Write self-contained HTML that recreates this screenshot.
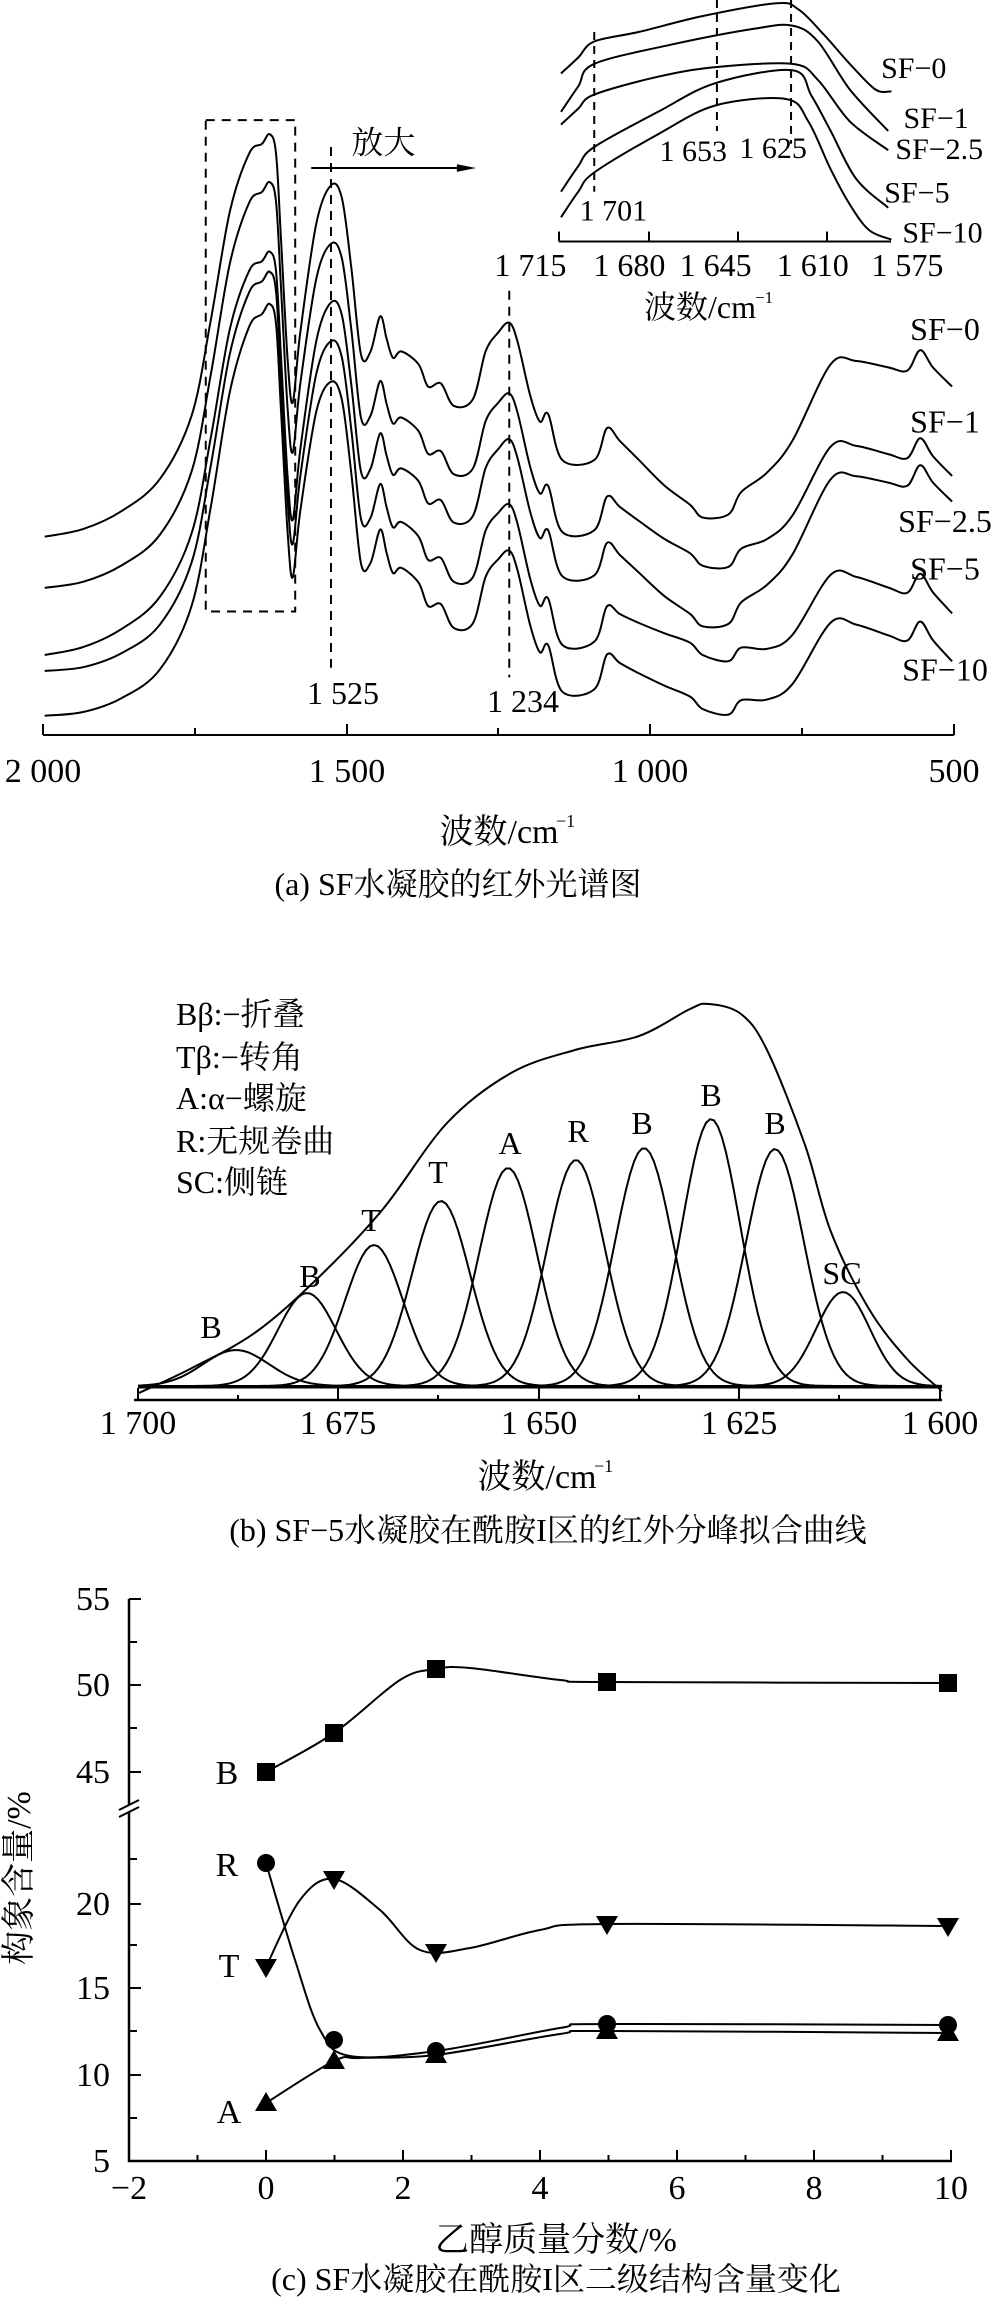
<!DOCTYPE html>
<html><head><meta charset="utf-8"><style>
html,body{margin:0;padding:0;background:#fff;}
svg{display:block;}
text{font-family:"Liberation Serif","Noto Serif CJK SC","Noto Sans CJK SC",serif;fill:#000;}
</style></head><body>
<svg id="s" width="1000" height="2309" viewBox="0 0 1000 2309" xmlns="http://www.w3.org/2000/svg">
<rect width="1000" height="2309" fill="#fff"/>
</svg>
<script>
var S=document.getElementById('s');var NS='http://www.w3.org/2000/svg';
function el(t,a,txt){var e=document.createElementNS(NS,t);for(var k in a)e.setAttribute(k,a[k]);if(txt!==undefined)e.textContent=txt;S.appendChild(e);return e;}
function cr(p){var d='M'+p[0][0].toFixed(1)+','+p[0][1].toFixed(1);for(var i=0;i<p.length-1;i++){var p0=p[i-1]||p[i],p1=p[i],p2=p[i+1],p3=p[i+2]||p2;var c1=[p1[0]+(p2[0]-p0[0])/6,p1[1]+(p2[1]-p0[1])/6],c2=[p2[0]-(p3[0]-p1[0])/6,p2[1]-(p3[1]-p1[1])/6];d+='C'+c1[0].toFixed(1)+','+c1[1].toFixed(1)+' '+c2[0].toFixed(1)+','+c2[1].toFixed(1)+' '+p2[0].toFixed(1)+','+p2[1].toFixed(1);}return d;}
function path(p,w,dash){var a={d:cr(p),fill:'none',stroke:'#000','stroke-width':w||2};if(dash)a['stroke-dasharray']=dash;return el('path',a);}
function line(x1,y1,x2,y2,w,dash){var a={x1:x1,y1:y1,x2:x2,y2:y2,stroke:'#000','stroke-width':w||2};if(dash)a['stroke-dasharray']=dash;return el('line',a);}
function txt(x,y,s,size,anchor){return el('text',{x:x,y:y,'font-size':size||32,'text-anchor':anchor||'middle'},s);}
// ===== Panel a =====
var k=1/1.565;
var T0=[[70,840],[130,828],[190,800],[250,750],[300,650],[330,500],[360,330],[390,240],[410,225],[422,210],[432,240],[440,380],[450,560],[458,630],[470,520],[495,350],[518,290],[535,310],[550,420],[565,555],[580,550],[595,495],[605,530],[615,560],[628,550],[655,570],[670,605],[690,600],[710,635],[740,625],[760,550],[780,520],[797,505],[810,535],[830,620],[845,660],[858,648],[880,720],[930,720],[950,670],[970,690],[1000,720],[1040,760],[1080,790],[1100,810],[1140,805],[1160,770],[1200,740],[1240,690],[1300,570],[1340,565],[1390,575],[1420,580],[1440,548],[1460,575],[1490,605]];
var offs=[[0,0,0,0],[80,140,-20,-48],[185,180,0,-11],[210,355,-31,-100],[280,430,-52,-89]];
offs.forEach(function(o){var p=T0.map(function(q){var x=q[0];var off=o[0]+(x-70)/1420*(o[1]-o[0])+o[2]*Math.exp(-Math.pow((x-430)/90,2))+o[3]*Math.exp(-Math.pow((x-1100)/120,2));return [x*k,(q[1]+off)*k];});path(p,2);});
el('rect',{x:322*k,y:188*k,width:140*k,height:769*k,fill:'none',stroke:'#000','stroke-width':2,'stroke-dasharray':'9,7'});
line(518*k,230*k,518*k,1045*k,2,'9,7');
line(797*k,455*k,797*k,1060*k,2,'9,7');
line(487*k,263*k,725*k,263*k,2);
el('polygon',{points:(745*k)+','+(263*k)+' '+(715*k)+','+(257*k)+' '+(715*k)+','+(269*k),fill:'#000'});
txt(600*k,240*k,'放大',32);
line(43,735,954,735,2);
[43,347,650,954].forEach(function(x){line(x,735,x,724,2);});
[195,498,802].forEach(function(x){line(x,735,x,728,2);});
txt(43,782,'2 000',34);txt(347,782,'1 500',34);txt(650,782,'1 000',34);txt(954,782,'500',34);
txt(499,843,'波数/cm',34);el('text',{x:556,y:827,'font-size':18},'−1');
txt(458,895,'(a) SF水凝胶的红外光谱图',32);
txt(343,704,'1 525',32);txt(523,712,'1 234',32);
[['SF−0',515],['SF−1',660],['SF−2.5',815],['SF−5',890],['SF−10',1048]].forEach(function(a){txt(945,a[1]*k+11,a[0],32);});
var ins=[[[878,115],[905,90],[930,65],[1000,50],[1100,25],[1215,5],[1250,15],[1290,55],[1330,100],[1370,140],[1395,143]],
[[878,175],[905,135],[930,100],[1050,70],[1180,45],[1240,40],[1280,65],[1330,140],[1390,205]],
[[878,195],[905,170],[930,148],[1030,120],[1120,105],[1240,100],[1280,125],[1330,190],[1390,235]],
[[878,300],[905,260],[930,230],[1030,175],[1120,130],[1240,110],[1270,150],[1300,205],[1340,280],[1390,325]],
[[878,340],[905,300],[930,270],[1030,210],[1120,165],[1230,155],[1265,190],[1300,265],[1330,320],[1360,360],[1395,375]]];
ins.forEach(function(c){path(c.map(function(q){return [q[0]*k,q[1]*k];}),2);});
line(930*k,50*k,930*k,300*k,2,'8,6');line(1122*k,0,1122*k,205*k,2,'8,6');line(1238*k,0,1238*k,225*k,2,'8,6');
txt(1085*k,235*k+11,'1 653',30);txt(1210*k,230*k+11,'1 625',30);txt(960*k,328*k+11,'1 701',30);
var iy=378*k;
line(559,iy,891,iy,2);[559,649,738,827].forEach(function(x){line(x,iy,x,iy-10,2);});
[['1 715',830],['1 680',985],['1 645',1120],['1 610',1272],['1 575',1420]].forEach(function(a){txt(a[1]*k,415*k+11,a[0],32);});
txt(700,318,'波数/cm',32);el('text',{x:755,y:303,'font-size':17},'−1');
[['SF−0',1430,105],['SF−1',1465,183],['SF−2.5',1470,232],['SF−5',1435,300],['SF−10',1475,362]].forEach(function(a){txt(a[1]*k,a[2]*k+11,a[0],30);});
// ===== Panel b =====
var pk=[[236,1350,33],[307,1293,29],[374,1245,29],[441,1201,29],[508,1168,29],[576,1160,29],[644,1148,29],[711,1119,29],[775,1149,29],[843,1292,27]];
pk.forEach(function(g){var p=[];for(var x=138;x<=942;x+=4){var y=1386-(1386-g[1])*Math.exp(-Math.pow((x-g[0])/g[2],2)/2);p.push([x,y]);}el('polyline',{points:p.map(function(q){return q[0]+','+q[1].toFixed(1);}).join(' '),fill:'none',stroke:'#000','stroke-width':2});});
line(138,1387,942,1387,3);
path([[139,1393],[192,1368],[256,1332],[319,1277],[383,1209],[447,1123],[511,1073],[575,1050],[639,1036],[690,1009],[709,1004],[741,1014],[767,1050],[805,1145],[831,1232],[869,1309],[907,1359],[942,1391]],2);
line(134,1400,942,1400,2.5);
[138,338,539,739,940].forEach(function(x){line(x,1400,x,1388,2);});
[238,438,639,839].forEach(function(x){line(x,1400,x,1395,2);});
txt(138,1434,'1 700',34);txt(338,1434,'1 675',34);txt(539,1434,'1 650',34);txt(739,1434,'1 625',34);txt(940,1434,'1 600',34);
txt(537,1488,'波数/cm',34);el('text',{x:594,y:1472,'font-size':18},'−1');
txt(548,1541,'(b) SF−5水凝胶在酰胺I区的红外分峰拟合曲线',32);
[['Bβ:−折叠',1025],['Tβ:−转角',1068],['A:α−螺旋',1109],['R:无规卷曲',1152],['SC:侧链',1193]].forEach(function(a){txt(176,a[1],a[0],32,'start');});
[['B',211,1338],['B',310,1287],['T',371,1231],['T',438,1183],['A',510,1154],['R',578,1142],['B',642,1134],['B',711,1106],['B',775,1134],['SC',842,1284]].forEach(function(a){txt(a[1],a[2],a[0],32);});
// ===== Panel c =====
line(129,1599,129,1805,2.5);line(129,1812,129,2162,2.5);
line(119,1810,139,1800,2);line(119,1817,139,1807,2);
line(128,2161,952,2161,2.5);
[[1599,1],[1642,0],[1685,1],[1728,0],[1772,1],[1859,0],[1904,1],[1945,0],[1988,1],[2031,0],[2075,1],[2118,0]].forEach(function(t){line(129,t[0],129+(t[1]?12:8),t[0],2);});
[['55',1599],['50',1685],['45',1772],['20',1904],['15',1988],['10',2075],['5',2161]].forEach(function(a){txt(110,a[1]+11,a[0],34,'end');});
for(var v=-2;v<=10;v++){var x=266+68.5*v;line(x,2161,x,2161-(v%2===0?11:6),2);if(v%2===0)txt(x,2199,v<0?'−2':String(v),34);}
el('text',{x:30,y:1878,'font-size':34,'text-anchor':'middle',transform:'rotate(-90 30 1878)'},'构象含量/%');
txt(556,2251,'乙醇质量分数/%',34);txt(556,2290,'(c) SF水凝胶在酰胺I区二级结构含量变化',32);
path([[266,1772],[334,1733],[400,1680],[436,1669],[470,1668],[560,1680],[607,1682],[948,1683]],2);
path([[266,1863],[295,1960],[320,2030],[350,2056],[436,2051],[560,2028],[607,2024],[948,2025]],2);
path([[266,1967],[300,1900],[334,1879],[380,1910],[420,1950],[470,1948],[540,1930],[607,1924],[948,1926]],2);
path([[266,2103],[334,2061],[360,2058],[436,2055],[560,2034],[607,2031],[948,2033]],2);
[[266,1772],[334,1733],[436,1669],[607,1682],[948,1683]].forEach(function(p){el('rect',{x:p[0]-9,y:p[1]-9,width:18,height:18,fill:'#000'});});
[[266,1863],[334,2040],[436,2051],[607,2024],[948,2025]].forEach(function(p){el('circle',{cx:p[0],cy:p[1],r:9,fill:'#000'});});
[[266,1967],[334,1879],[436,1952],[607,1924],[948,1926]].forEach(function(p){el('polygon',{points:(p[0]-11)+','+(p[1]-8)+' '+(p[0]+11)+','+(p[1]-8)+' '+p[0]+','+(p[1]+11),fill:'#000'});});
[[266,2103],[334,2061],[436,2055],[607,2031],[948,2033]].forEach(function(p){el('polygon',{points:(p[0]-11)+','+(p[1]+8)+' '+(p[0]+11)+','+(p[1]+8)+' '+p[0]+','+(p[1]-11),fill:'#000'});});
txt(227,1784,'B',34);txt(227,1876,'R',34);txt(229,1977,'T',34);txt(229,2123,'A',34);
</script>
</body></html>
